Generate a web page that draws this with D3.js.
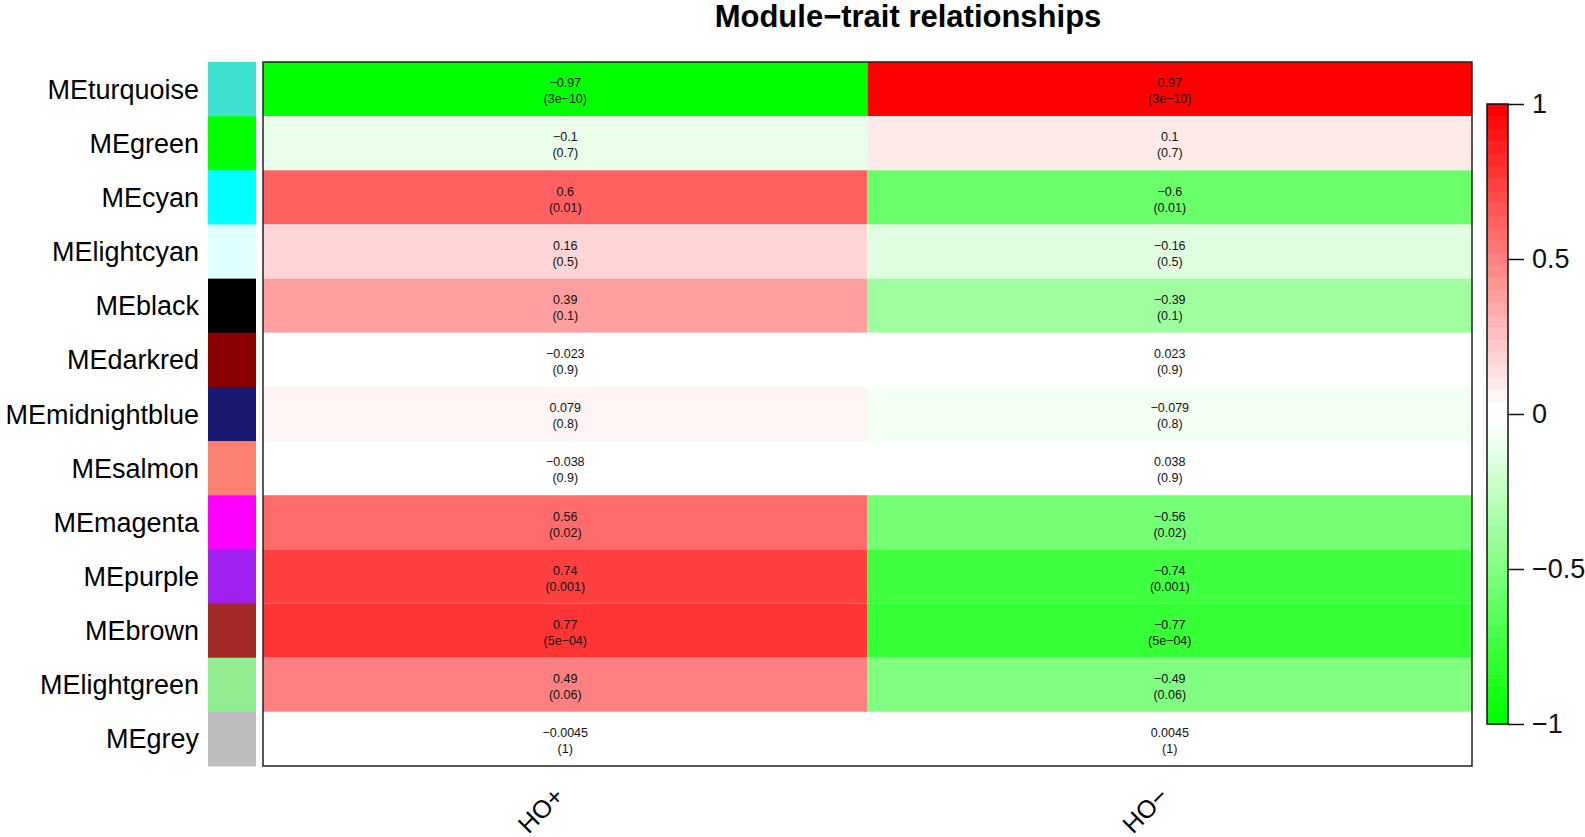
<!DOCTYPE html>
<html>
<head>
<meta charset="utf-8">
<script src="https://cdn.jsdelivr.net/npm/d3@7"></script>
<style>
  body { margin: 0; background: #fff; }
  svg { font-family: "Liberation Sans", Arial, sans-serif; }
</style>
</head>
<body>
<div id="chart"></div>
<script>
// module eigengenes (rows) and traits (columns)
var modules = ["MEturquoise", "MEgreen", "MEcyan", "MElightcyan", "MEblack", "MEdarkred",
  "MEmidnightblue", "MEsalmon", "MEmagenta", "MEpurple", "MEbrown", "MElightgreen", "MEgrey"];
var moduleColors = ["#40E0D0", "#00FF00", "#00FFFF", "#E0FFFF", "#000000", "#8B0000",
  "#191970", "#FA8072", "#FF00FF", "#A020F0", "#A52A2A", "#90EE90", "#BEBEBE"];
var traits = ["HO+", "HO\u2212"];

var corHOpos = [-0.97, -0.1, 0.6, 0.16, 0.39, -0.023, 0.079, -0.038, 0.56, 0.74, 0.77, 0.49, -0.0045];
var corHOneg = [0.97, 0.1, -0.6, -0.16, -0.39, 0.023, -0.079, 0.038, -0.56, -0.74, -0.77, -0.49, 0.0045];
var pvals = ["3e-10", "0.7", "0.01", "0.5", "0.1", "0.9", "0.8", "0.9", "0.02", "0.001", "5e-04", "0.06", "1"];

var legendTicks = [-1, -0.5, 0, 0.5, 1];

var W = 1585, H = 837;
var hmLeft = 263, hmRight = 1472, hmTop = 62, hmBottom = 766;

var svg = d3.select("#chart").append("svg")
  .attr("width", W)
  .attr("height", H);

// build cell table
var cells = [];
modules.forEach(function(m, i) {
  cells.push({module: m, trait: traits[0], cor: corHOpos[i], p: pvals[i]});
  cells.push({module: m, trait: traits[1], cor: corHOneg[i], p: pvals[i]});
});

var x = d3.scaleBand().domain(traits).range([hmLeft, hmRight]);
var y = d3.scaleBand().domain(modules).range([hmTop, hmBottom]);

// greenWhiteRed with 50 steps, the two middle steps white
var nSteps = 50, half = nSteps / 2;
var toGreen = d3.interpolateRgb("#00FF00", "#FFFFFF");
var toRed = d3.interpolateRgb("#FFFFFF", "#FF0000");
var steps = d3.range(nSteps).map(function(i) {
  return i < half ? toGreen(i / (half - 1)) : toRed((i - half) / (half - 1));
});
var color = d3.scaleQuantize().domain([-1, 1]).range(steps);

function fmt(s) { return String(s).replace(/-/g, "\u2212"); }

svg.append("text")
  .attr("x", 908)
  .attr("y", 27)
  .attr("text-anchor", "middle")
  .style("font-size", "31px")
  .style("font-weight", "bold")
  .text("Module\u2212trait relationships");

// heatmap cells
svg.selectAll(".cell")
  .data(cells)
  .enter()
  .append("rect")
    .attr("class", "cell")
    .attr("x", function(d) { return x(d.trait); })
    .attr("y", function(d) { return y(d.module); })
    .attr("width", x.bandwidth())
    .attr("height", y.bandwidth())
    .attr("fill", function(d) { return color(d.cor); });

var labels = svg.selectAll(".val")
  .data(cells)
  .enter()
  .append("text")
    .attr("class", "val")
    .attr("text-anchor", "middle")
    .style("font-size", "12.5px")
    .attr("fill", "#111");
labels.append("tspan")
  .attr("x", function(d) { return x(d.trait) + x.bandwidth() / 2; })
  .attr("y", function(d) { return y(d.module) + y.bandwidth() / 2 - 1.8; })
  .text(function(d) { return fmt(d.cor); });
labels.append("tspan")
  .attr("x", function(d) { return x(d.trait) + x.bandwidth() / 2; })
  .attr("y", function(d) { return y(d.module) + y.bandwidth() / 2 + 14.2; })
  .text(function(d) { return "(" + fmt(d.p) + ")"; });

// frame
svg.append("rect")
  .attr("x", hmLeft)
  .attr("y", hmTop)
  .attr("width", hmRight - hmLeft)
  .attr("height", hmBottom - hmTop)
  .attr("fill", "none")
  .attr("stroke", "#222")
  .attr("stroke-width", 1.5);

// module colour swatches
svg.selectAll(".swatch")
  .data(modules)
  .enter()
  .append("rect")
    .attr("x", 208)
    .attr("y", function(d) { return y(d); })
    .attr("width", 48)
    .attr("height", y.bandwidth() + 0.5)
    .attr("fill", function(d, i) { return moduleColors[i]; });

svg.selectAll(".rowlab")
  .data(modules)
  .enter()
  .append("text")
    .attr("x", 199)
    .attr("y", function(d) { return y(d) + y.bandwidth() / 2 + 9.5; })
    .attr("text-anchor", "end")
    .style("font-size", "27px")
    .text(function(d) { return d; });

svg.selectAll(".collab")
  .data(traits)
  .enter()
  .append("text")
    .attr("text-anchor", "end")
    .attr("transform", function(d) {
      return "translate(" + (x(d) + x.bandwidth() / 2) + ",798) rotate(-45)";
    })
    .style("font-size", "25px")
    .text(function(d) { return d; });

// legend colour bar
var ly = d3.scaleLinear().domain([-1, 1]).range([724, 104]);
var lx = 1487, lw = 21;
var binW = 2 / nSteps;
svg.selectAll(".lbin")
  .data(steps)
  .enter()
  .append("rect")
    .attr("x", lx)
    .attr("y", function(d, i) { return ly(-1 + (i + 1) * binW); })
    .attr("width", lw)
    .attr("height", function(d, i) { return ly(-1 + i * binW) - ly(-1 + (i + 1) * binW) + 0.5; })
    .attr("fill", function(d) { return d; });

svg.append("rect")
  .attr("x", lx)
  .attr("y", 104)
  .attr("width", lw)
  .attr("height", 620)
  .attr("fill", "none")
  .attr("stroke", "#111")
  .attr("stroke-width", 1.5);

var lAxis = svg.append("g")
  .attr("transform", "translate(" + (lx + lw) + ",0)")
  .call(d3.axisRight(ly).tickValues(legendTicks).tickSize(16).tickPadding(8).tickFormat(d3.format("~g")));
lAxis.select(".domain").remove();
lAxis.selectAll("line").attr("stroke", "#111").attr("stroke-width", 1.5);
lAxis.selectAll("text")
  .style("font-size", "27px")
  .style("font-family", "'Liberation Sans', Arial, sans-serif")
  .attr("fill", "#111");
</script>
</body>
</html>
